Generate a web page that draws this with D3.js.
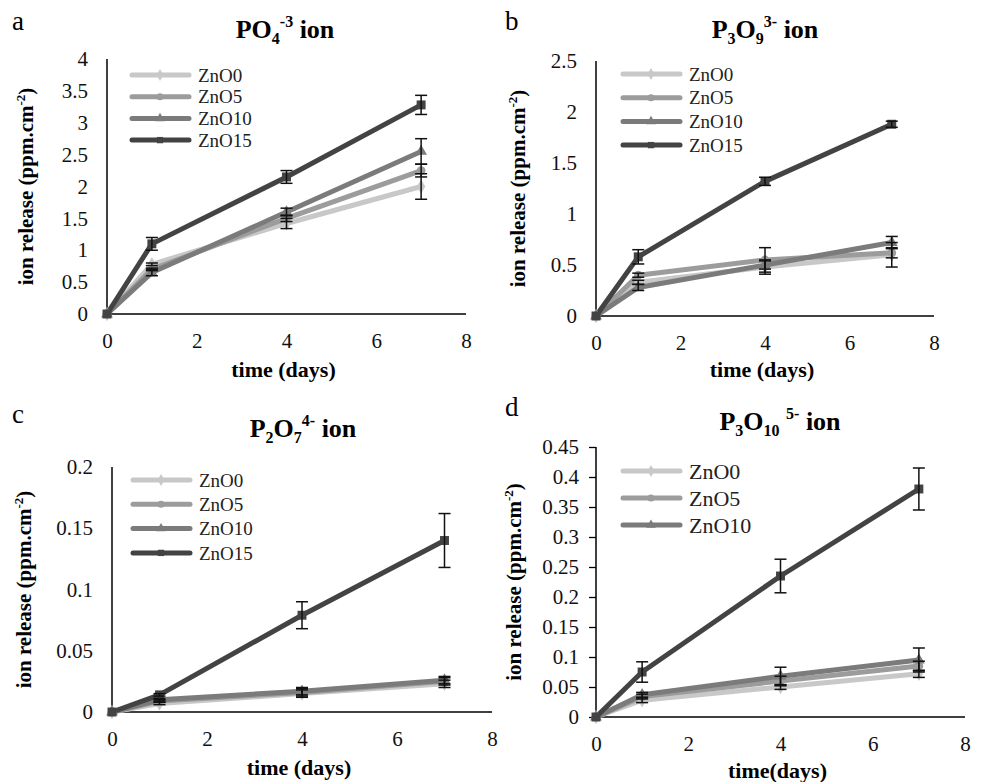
<!DOCTYPE html>
<html>
<head>
<meta charset="utf-8">
<script src="https://cdn.jsdelivr.net/npm/d3@7"></script>
<style>
  body { margin: 0; background: #fff; }
  text { font-family: "Liberation Serif", "DejaVu Serif", "Times New Roman", Times, serif; }
</style>
</head>
<body>
<svg id="chart" width="981" height="782"></svg>
<script>
// Sample times (days) and series
const days = [0, 1, 4, 7];
const seriesNames = ["ZnO0", "ZnO5", "ZnO10", "ZnO15"];
const seriesColors = ["#c8c8c8", "#9c9c9c", "#7b7b7b", "#434343"];
const seriesSymbols = [d3.symbolDiamond, d3.symbolCircle, d3.symbolTriangle, d3.symbolSquare];
const xTicks = [0, 2, 4, 6, 8];

// a: PO4 (-3)
const po4ZnO0 = [0, 0.78, 1.42, 2.0];
const po4ZnO5 = [0, 0.7, 1.5, 2.25];
const po4ZnO10 = [0, 0.65, 1.6, 2.55];
const po4ZnO15 = [0, 1.1, 2.15, 3.28];
const po4ErrZnO0 = [0, 0.02, 0.08, 0.2];
const po4ErrZnO5 = [0, 0.02, 0.05, 0.1];
const po4ErrZnO10 = [0, 0.05, 0.06, 0.2];
const po4ErrZnO15 = [0, 0.1, 0.1, 0.15];
const po4Ticks = [0, 0.5, 1, 1.5, 2, 2.5, 3, 3.5, 4];

// b: P3O9 (3-)
const p3o9ZnO0 = [0, 0.33, 0.48, 0.6];
const p3o9ZnO5 = [0, 0.4, 0.55, 0.62];
const p3o9ZnO10 = [0, 0.28, 0.5, 0.72];
const p3o9ZnO15 = [0, 0.58, 1.32, 1.88];
const p3o9ErrZnO0 = [0, 0.02, 0.07, 0.12];
const p3o9ErrZnO5 = [0, 0.02, 0.12, 0.05];
const p3o9ErrZnO10 = [0, 0.03, 0.04, 0.06];
const p3o9ErrZnO15 = [0, 0.07, 0.04, 0.03];
const p3o9Ticks = [0, 0.5, 1, 1.5, 2, 2.5];

// c: P2O7 (4-)
const p2o7ZnO0 = [0, 0.007, 0.015, 0.023];
const p2o7ZnO5 = [0, 0.009, 0.016, 0.025];
const p2o7ZnO10 = [0, 0.01, 0.017, 0.026];
const p2o7ZnO15 = [0, 0.014, 0.079, 0.14];
const p2o7ErrZnO0 = [0, 0.001, 0.003, 0.003];
const p2o7ErrZnO5 = [0, 0.001, 0.003, 0.003];
const p2o7ErrZnO10 = [0, 0.001, 0.003, 0.003];
const p2o7ErrZnO15 = [0, 0.001, 0.011, 0.022];
const p2o7Ticks = [0, 0.05, 0.1, 0.15, 0.2];

// d: P3O10 (5-)
const p3o10ZnO0 = [0, 0.028, 0.05, 0.072];
const p3o10ZnO5 = [0, 0.034, 0.06, 0.085];
const p3o10ZnO10 = [0, 0.037, 0.068, 0.095];
const p3o10ZnO15 = [0, 0.075, 0.235, 0.38];
const p3o10ErrZnO0 = [0, 0.004, 0.004, 0.006];
const p3o10ErrZnO5 = [0, 0.004, 0.008, 0.008];
const p3o10ErrZnO10 = [0, 0.004, 0.015, 0.02];
const p3o10ErrZnO15 = [0, 0.017, 0.028, 0.035];
const p3o10Ticks = [0, 0.05, 0.1, 0.15, 0.2, 0.25, 0.3, 0.35, 0.4, 0.45];

const svg = d3.select("#chart");
const serif = "'Liberation Serif', 'DejaVu Serif', serif";

const panels = [
  {
    letter: "a", letterX: 12, letterY: 30,
    title: [["PO", 0], ["4", -1], ["-3", 1], [" ion", 0]], titleX: 285, titleY: 38,
    values: [po4ZnO0, po4ZnO5, po4ZnO10, po4ZnO15],
    errors: [po4ErrZnO0, po4ErrZnO5, po4ErrZnO10, po4ErrZnO15],
    ticks: po4Ticks, xRange: [107, 466], yRange: [314, 59],
    legendX: 132, legendY: 75, legendStep: 21.7, legendN: 4, legendFont: 19,
    ylabX: 33, xlabY: 377, xlab: "time (days)", yTickMarks: false
  },
  {
    letter: "b", letterX: 505, letterY: 30,
    title: [["P", 0], ["3", -1], ["O", 0], ["9", -1], ["3-", 1], [" ion", 0]], titleX: 765, titleY: 38,
    values: [p3o9ZnO0, p3o9ZnO5, p3o9ZnO10, p3o9ZnO15],
    errors: [p3o9ErrZnO0, p3o9ErrZnO5, p3o9ErrZnO10, p3o9ErrZnO15],
    ticks: p3o9Ticks, xRange: [596, 934], yRange: [316, 61],
    legendX: 623, legendY: 74, legendStep: 23.7, legendN: 4, legendFont: 19,
    ylabX: 525, xlabY: 377, xlab: "time (days)", yTickMarks: false
  },
  {
    letter: "c", letterX: 12, letterY: 423,
    title: [["P", 0], ["2", -1], ["O", 0], ["7", -1], ["4-", 1], [" ion", 0]], titleX: 303, titleY: 437,
    values: [p2o7ZnO0, p2o7ZnO5, p2o7ZnO10, p2o7ZnO15],
    errors: [p2o7ErrZnO0, p2o7ErrZnO5, p2o7ErrZnO10, p2o7ErrZnO15],
    ticks: p2o7Ticks, xRange: [112, 492], yRange: [712, 467],
    legendX: 133, legendY: 480, legendStep: 24.3, legendN: 4, legendFont: 19,
    ylabX: 31, xlabY: 775, xlab: "time (days)", yTickMarks: false
  },
  {
    letter: "d", letterX: 505, letterY: 416,
    title: [["P", 0], ["3", -1], ["O", 0], ["10", -1], [" ", 0], ["5-", 1], [" ion", 0]], titleX: 780, titleY: 430,
    values: [p3o10ZnO0, p3o10ZnO5, p3o10ZnO10, p3o10ZnO15],
    errors: [p3o10ErrZnO0, p3o10ErrZnO5, p3o10ErrZnO10, p3o10ErrZnO15],
    ticks: p3o10Ticks, xRange: [596, 965], yRange: [717, 447],
    legendX: 623, legendY: 471, legendStep: 27, legendN: 3, legendFont: 22,
    ylabX: 521, xlabY: 778, xlab: "time(days)", yTickMarks: true
  }
];

function drawPanel(p) {
  const g = svg.append("g").attr("font-family", serif);
  const x = d3.scaleLinear().domain([0, 8]).range(p.xRange);
  const y = d3.scaleLinear().domain([0, d3.max(p.ticks)]).range(p.yRange);
  const fmt = (d) => String(+d.toFixed(2));

  // panel letter
  g.append("text").attr("x", p.letterX).attr("y", p.letterY)
    .attr("font-size", 27).text(p.letter);

  // title with sub/superscripts
  const t = g.append("text").attr("x", p.titleX).attr("y", p.titleY)
    .attr("text-anchor", "middle").attr("font-size", 26).attr("font-weight", "bold");
  p.title.forEach(([s, pos]) => {
    const ts = t.append("tspan").text(s);
    if (pos !== 0) {
      ts.attr("font-size", 16).attr("baseline-shift", pos > 0 ? "70%" : "-35%");
    }
  });

  // y axis
  const yAxis = d3.axisLeft(y).tickValues(p.ticks).tickFormat(fmt)
    .tickSize(p.yTickMarks ? 7 : 0).tickPadding(p.yTickMarks ? 10 : 19);
  const ya = g.append("g").attr("transform", `translate(${p.xRange[0]},0)`).call(yAxis)
    .attr("font-family", serif);
  ya.select(".domain").attr("stroke", "#000").attr("stroke-width", 1.5)
    .attr("d", `M0,${p.yRange[0]}V${p.yRange[1]}`);
  ya.selectAll(".tick line").attr("stroke", "#000").attr("stroke-width", 1.3);
  ya.selectAll("text").attr("font-size", 21).attr("fill", "#111");

  // x axis
  const xAxis = d3.axisBottom(x).tickValues(xTicks).tickSize(0).tickPadding(19);
  const xa = g.append("g").attr("transform", `translate(0,${p.yRange[0]})`).call(xAxis)
    .attr("font-family", serif);
  xa.select(".domain").attr("stroke", "#000").attr("stroke-width", 1.5)
    .attr("d", `M${p.xRange[0]},0H${p.xRange[1]}`);
  xa.selectAll("text").attr("font-size", 21).attr("fill", "#111");

  // axis titles
  const cx = (p.xRange[0] + p.xRange[1]) / 2;
  g.append("text").attr("x", cx - 3).attr("y", p.xlabY).attr("text-anchor", "middle")
    .attr("font-size", 22).attr("font-weight", "bold").text(p.xlab);
  const cy = (p.yRange[0] + p.yRange[1]) / 2;
  const yl = g.append("text")
    .attr("transform", `translate(${p.ylabX},${cy}) rotate(-90)`)
    .attr("text-anchor", "middle").attr("font-size", 21).attr("font-weight", "bold");
  yl.append("tspan").text("ion release (ppm.cm");
  yl.append("tspan").attr("font-size", 13).attr("baseline-shift", "60%").text("-2");
  yl.append("tspan").text(")");

  const line = d3.line().x((d) => x(d[0])).y((d) => y(d[1]));

  // series lines and markers
  p.values.forEach((vals, i) => {
    const pts = days.map((d, j) => [d, vals[j]]);
    g.append("path").datum(pts).attr("d", line).attr("fill", "none")
      .attr("stroke", seriesColors[i]).attr("stroke-width", 5)
      .attr("stroke-linejoin", "round");
  });
  p.values.forEach((vals, i) => {
    const sym = d3.symbol().type(seriesSymbols[i]).size(i === 3 ? 80 : 60);
    g.selectAll(null).data(days.map((d, j) => [d, vals[j]])).enter()
      .append("path").attr("d", sym)
      .attr("transform", (d) => `translate(${x(d[0])},${y(d[1])})`)
      .attr("fill", seriesColors[i]);
  });

  // error bars
  p.values.forEach((vals, i) => {
    const errs = p.errors[i];
    days.forEach((d, j) => {
      if (!errs[j]) return;
      const px = x(d), top = y(vals[j] + errs[j]), bot = y(vals[j] - errs[j]);
      const eb = g.append("g").attr("stroke", "#111").attr("stroke-width", 1.5);
      eb.append("line").attr("x1", px).attr("x2", px).attr("y1", top).attr("y2", bot);
      eb.append("line").attr("x1", px - 6).attr("x2", px + 6).attr("y1", top).attr("y2", top);
      eb.append("line").attr("x1", px - 6).attr("x2", px + 6).attr("y1", bot).attr("y2", bot);
    });
  });

  // legend
  for (let i = 0; i < p.legendN; i++) {
    const ly = p.legendY + i * p.legendStep;
    g.append("line").attr("x1", p.legendX).attr("x2", p.legendX + 57)
      .attr("y1", ly).attr("y2", ly).attr("stroke", seriesColors[i])
      .attr("stroke-width", 5).attr("stroke-linecap", "round");
    g.append("path").attr("d", d3.symbol().type(seriesSymbols[i]).size(40))
      .attr("transform", `translate(${p.legendX + 28},${ly})`)
      .attr("fill", seriesColors[i]);
    g.append("text").attr("x", p.legendX + 66).attr("y", ly).attr("dy", "0.35em")
      .attr("font-size", p.legendFont).attr("fill", "#222").text(seriesNames[i]);
  }
}

panels.forEach(drawPanel);
</script>
</body>
</html>
